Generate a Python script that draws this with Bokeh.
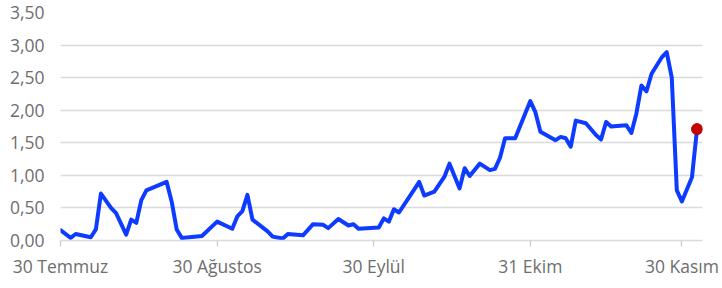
import pandas as pd
from bokeh.plotting import figure
from bokeh.models import Range1d, FixedTicker, ColumnDataSource
from bokeh.embed import file_html
from bokeh.resources import INLINE

dates = [
    "2024-07-30", "2024-08-01", "2024-08-02", "2024-08-05", "2024-08-06", "2024-08-07",
    "2024-08-09", "2024-08-10", "2024-08-12", "2024-08-13", "2024-08-14", "2024-08-15",
    "2024-08-16", "2024-08-20", "2024-08-21", "2024-08-22", "2024-08-23", "2024-08-27",
    "2024-08-30", "2024-09-02", "2024-09-03", "2024-09-04", "2024-09-05", "2024-09-06",
    "2024-09-09", "2024-09-10", "2024-09-12", "2024-09-13", "2024-09-16", "2024-09-18",
    "2024-09-20", "2024-09-21", "2024-09-23", "2024-09-25", "2024-09-26", "2024-09-27",
    "2024-10-01", "2024-10-02", "2024-10-03", "2024-10-04", "2024-10-05", "2024-10-08",
    "2024-10-09", "2024-10-10", "2024-10-12", "2024-10-14", "2024-10-15", "2024-10-17",
    "2024-10-18", "2024-10-19", "2024-10-21", "2024-10-23", "2024-10-24", "2024-10-25",
    "2024-10-26", "2024-10-28", "2024-10-31", "2024-11-01", "2024-11-02", "2024-11-05",
    "2024-11-06", "2024-11-07", "2024-11-08", "2024-11-09", "2024-11-11", "2024-11-13",
    "2024-11-14", "2024-11-15", "2024-11-16", "2024-11-19", "2024-11-20", "2024-11-21",
    "2024-11-22", "2024-11-23", "2024-11-24", "2024-11-26", "2024-11-27", "2024-11-28",
    "2024-11-29", "2024-11-30", "2024-12-02", "2024-12-03",
]
values = [
    0.16, 0.04, 0.10, 0.05, 0.17, 0.72, 0.50, 0.42, 0.09, 0.32, 0.27, 0.62,
    0.77, 0.90, 0.60, 0.17, 0.04, 0.07, 0.29, 0.18, 0.37, 0.45, 0.70, 0.32,
    0.14, 0.06, 0.03, 0.10, 0.08, 0.25, 0.24, 0.19, 0.33, 0.23, 0.25, 0.18,
    0.20, 0.34, 0.29, 0.48, 0.43, 0.78, 0.90, 0.69, 0.75, 0.98, 1.18, 0.80,
    1.11, 0.99, 1.18, 1.08, 1.10, 1.27, 1.57, 1.57, 2.14, 1.97, 1.67, 1.54,
    1.59, 1.57, 1.44, 1.84, 1.80, 1.62, 1.55, 1.82, 1.75, 1.77, 1.65, 1.95,
    2.38, 2.29, 2.56, 2.81, 2.89, 2.50, 0.77, 0.60, 0.97, 1.71,
]
x_tick_dates = ["2024-07-30", "2024-08-30", "2024-09-30", "2024-10-31", "2024-11-30"]
x_tick_labels = ["30 Temmuz", "30 Ağustos", "30 Eylül", "31 Ekim", "30 Kasım"]
y_ticks = [0.0, 0.5, 1.0, 1.5, 2.0, 2.5, 3.0, 3.5]
y_tick_labels = ["0,00", "0,50", "1,00", "1,50", "2,00", "2,50", "3,00", "3,50"]

FONT = "Open Sans"
TEXT_COLOR = "#6e6e6e"
GRID_COLOR = "#dadada"

dt = pd.to_datetime(dates)
src = ColumnDataSource(dict(x=dt, y=values))

p = figure(
    width=722, height=280,
    x_axis_type="datetime",
    x_range=Range1d(pd.Timestamp("2024-07-30"), pd.Timestamp("2024-12-04 02:00")),
    y_range=Range1d(0, 3.5),
    output_backend="svg", toolbar_location=None,
)
p.min_border_left = 60
p.min_border_top = 12
p.min_border_right = 20
p.min_border_bottom = 38
p.outline_line_color = None
p.background_fill_color = "white"
p.border_fill_color = "white"

p.line("x", "y", source=src, line_color="#0d3bff", line_width=4, line_join="round", line_cap="round")
p.scatter(x=[dt[-1]], y=[values[-1]], size=11, fill_color="#c40000", line_color="#c40000")

# x axis
tick_ms = [pd.Timestamp(d).value / 1e6 for d in x_tick_dates]
p.xaxis.ticker = FixedTicker(ticks=tick_ms)
p.xaxis.major_label_overrides = {t: l for t, l in zip(tick_ms, x_tick_labels)}
p.xaxis.axis_line_color = GRID_COLOR
p.xaxis.axis_line_width = 1.3
p.xaxis.major_tick_line_color = "#cccccc"
p.xaxis.major_tick_line_width = 1.3
p.xaxis.major_tick_in = 0
p.xaxis.major_tick_out = 6
p.xaxis.minor_tick_line_color = None
p.xaxis.major_label_text_font = FONT
p.xaxis.major_label_text_font_size = "17.5px"
p.xaxis.major_label_text_color = TEXT_COLOR
p.xaxis.major_label_standoff = 7
p.xgrid.grid_line_color = None

# y axis
p.yaxis.ticker = FixedTicker(ticks=y_ticks)
p.yaxis.major_label_overrides = {t: l for t, l in zip(y_ticks, y_tick_labels)}
p.yaxis.axis_line_color = None
p.yaxis.major_tick_line_color = None
p.yaxis.minor_tick_line_color = None
p.yaxis.major_tick_in = 0
p.yaxis.major_tick_out = 0
p.yaxis.major_label_text_font = FONT
p.yaxis.major_label_text_font_size = "17.5px"
p.yaxis.major_label_text_color = TEXT_COLOR
p.yaxis.major_label_standoff = 16
p.ygrid.grid_line_color = GRID_COLOR
p.ygrid.grid_line_width = 1.3

open("out.html", "w").write(file_html(p, INLINE))
